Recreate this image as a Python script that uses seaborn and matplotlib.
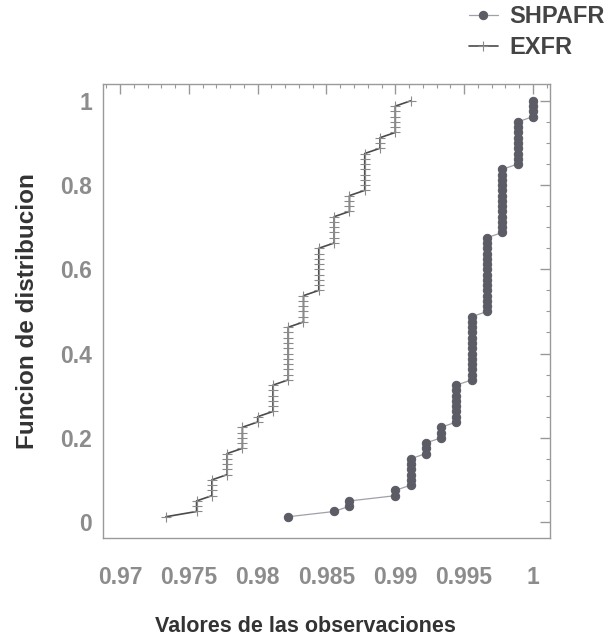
import numpy as np
import pandas as pd

import seaborn as sns
import matplotlib.pyplot as plt
from matplotlib.ticker import MultipleLocator

# valores distintos observados y cuantas veces aparece cada uno
shpafr_values = [0.98222, 0.98556, 0.98667, 0.99000, 0.99111, 0.99222, 0.99333,
                 0.99444, 0.99556, 0.99667, 0.99778, 0.99889, 1.00000]
shpafr_counts = [1, 1, 2, 2, 6, 3, 3, 8, 13, 15, 13, 9, 4]

exfr_values = [0.97333, 0.97556, 0.97667, 0.97778, 0.97889, 0.98000, 0.98111, 0.98222,
               0.98333, 0.98444, 0.98556, 0.98667, 0.98778, 0.98889, 0.99000, 0.99111]
exfr_counts = [1, 3, 4, 5, 5, 2, 6, 11, 6, 9, 6, 4, 8, 3, 6, 1]

x_ticks = [0.97, 0.975, 0.98, 0.985, 0.99, 0.995, 1.0]
x_tick_labels = ['0.97', '0.975', '0.98', '0.985', '0.99', '0.995', '1']
y_ticks = [0, 0.2, 0.4, 0.6, 0.8, 1.0]
y_tick_labels = ['0', '0.2', '0.4', '0.6', '0.8', '1']


def ecdf_frame(values, counts):
    # funcion de distribucion empirica de las observaciones
    obs = np.repeat(values, counts)
    n = len(obs)
    return pd.DataFrame({'valor': obs, 'F': np.arange(1, n + 1) / n})


shpafr_df = ecdf_frame(shpafr_values, shpafr_counts)
exfr_df = ecdf_frame(exfr_values, exfr_counts)

sns.set_style("white")
plt.rcParams['font.family'] = ['Liberation Sans', 'DejaVu Sans']
plt.rcParams['font.weight'] = 'bold'

fig = plt.figure(figsize=(6.07, 6.37), dpi=100)
ax = fig.add_axes([0.1697, 0.1554, 0.7363, 0.7127])

sns.lineplot(
    ax=ax, data=shpafr_df, x='valor', y='F',
    estimator=None, sort=False,
    color='#a0a0a8', linewidth=0.9,
    marker='o', markersize=6, markerfacecolor='#5c5c66', markeredgecolor='#5c5c66',
    label='SHPAFR',
)
sns.lineplot(
    ax=ax, data=exfr_df, x='valor', y='F',
    estimator=None, sort=False,
    color='#4a4a4a', linewidth=1.2,
    marker='+', markersize=7, markeredgewidth=0.8, markeredgecolor='#8a8a8a',
    label='EXFR',
)

ax.set_xlim(0.96876, 1.00124)
ax.set_ylim(-0.038, 1.04)
ax.set_xticks(x_ticks)
ax.set_xticklabels(x_tick_labels)
ax.set_yticks(y_ticks)
ax.set_yticklabels(y_tick_labels)
ax.xaxis.set_minor_locator(MultipleLocator(0.001))
ax.yaxis.set_minor_locator(MultipleLocator(0.05))
ax.tick_params(which='both', direction='in', top=True, right=True, color='#999999')
ax.tick_params(which='major', length=7, width=1.0)
ax.tick_params(which='minor', length=3, width=0.8)
ax.tick_params(axis='x', which='major', pad=20, labelsize=16.5, labelcolor='#8c8c8c')
ax.tick_params(axis='y', which='major', pad=8, labelsize=16.5, labelcolor='#8c8c8c')
for spine in ax.spines.values():
    spine.set_color('#9a9a9a')
    spine.set_linewidth(1.0)

ax.set_xlabel("Valores de las observaciones", fontsize=15.5, fontweight='bold',
              color='#333333')
ax.xaxis.set_label_coords(0.454, -0.172)
ax.set_ylabel("Funcion de distribucion", fontsize=17.5, fontweight='bold',
              color='#333333', labelpad=15)

leg = ax.legend(loc='upper right', bbox_to_anchor=(1.012, 1.007), bbox_transform=fig.transFigure,
                frameon=False, fontsize=17, handlelength=1.2, handletextpad=0.5,
                labelspacing=0.35, borderaxespad=0.0)
for txt in leg.get_texts():
    txt.set_color('#444444')
    txt.set_fontweight('bold')

plt.savefig('out.png', dpi=100)
